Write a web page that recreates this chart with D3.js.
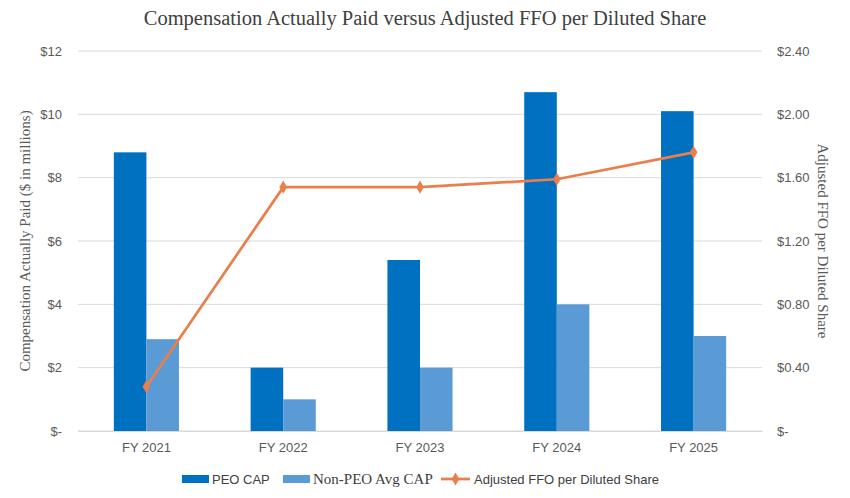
<!DOCTYPE html>
<html>
<head>
<meta charset="utf-8">
<script src="https://cdn.jsdelivr.net/npm/d3@7"></script>
<style>
  body { margin: 0; background: #fff; }
  .tick text { fill: #595959; }
</style>
</head>
<body>
<div id="chart"></div>
<script>
// Data
const years = ["FY 2021", "FY 2022", "FY 2023", "FY 2024", "FY 2025"];
const peoCap = [8.8, 2.0, 5.4, 10.7, 10.1];
const nonPeoCap = [2.9, 1.0, 2.0, 4.0, 3.0];
const ffoPerShare = [0.28, 1.54, 1.54, 1.59, 1.76];
const leftTicks = [0, 2, 4, 6, 8, 10, 12];
const rightTicks = [0, 0.4, 0.8, 1.2, 1.6, 2.0, 2.4];

const W = 850, H = 498;
const margin = {top: 51, right: 88, bottom: 67, left: 78};
const width = W - margin.left - margin.right,
      height = H - margin.top - margin.bottom;

const sans = "'Liberation Sans', Arial, sans-serif";
const serif = "'Liberation Serif', 'Times New Roman', serif";
const colors = {peo: "#0070C0", non: "#5B9BD5", line: "#E97F4C"};

const svg = d3.select("#chart").append("svg")
    .attr("width", W)
    .attr("height", H);

// Title
svg.append("text")
    .attr("x", W / 2)
    .attr("y", 25)
    .attr("text-anchor", "middle")
    .style("font-family", serif)
    .style("font-size", "20.5px")
    .style("fill", "#404040")
    .text("Compensation Actually Paid versus Adjusted FFO per Diluted Share");

const g = svg.append("g")
    .attr("transform", `translate(${margin.left},${margin.top})`);

// Scales
const x0 = d3.scaleBand().domain(years).range([0, width]);
const x1 = d3.scaleBand().domain(["peo", "non"])
    .range([0, x0.bandwidth()])
    .paddingOuter(1.1);
const yL = d3.scaleLinear().domain([0, 12]).range([height, 0]);
const yR = d3.scaleLinear().domain([0, 2.4]).range([height, 0]);

// Gridlines
g.append("g")
    .selectAll("line")
    .data(leftTicks)
    .join("line")
    .attr("x1", 0)
    .attr("x2", width)
    .attr("y1", d => yL(d))
    .attr("y2", d => yL(d))
    .attr("stroke", "#D9D9D9")
    .attr("stroke-width", 1);

// Left axis
const fmtL = d => d === 0 ? "$-" : "$" + d;
g.append("g")
    .call(d3.axisLeft(yL).tickValues(leftTicks).tickFormat(fmtL).tickSize(0).tickPadding(16))
    .call(a => a.select(".domain").remove())
    .selectAll("text")
    .style("font-family", sans)
    .style("font-size", "13px");

// Right axis
const fmtR = d => d === 0 ? "$-" : "$" + d.toFixed(2);
g.append("g")
    .attr("transform", `translate(${width},0)`)
    .call(d3.axisRight(yR).tickValues(rightTicks).tickFormat(fmtR).tickSize(0).tickPadding(15))
    .call(a => a.select(".domain").remove())
    .selectAll("text")
    .style("font-family", sans)
    .style("font-size", "13px");

// Bars
const rows = years.map((y, i) => ({year: y, peo: peoCap[i], non: nonPeoCap[i]}));
const groups = g.append("g").selectAll("g")
    .data(rows)
    .join("g")
    .attr("transform", d => `translate(${x0(d.year)},0)`);

groups.selectAll("rect")
    .data(d => ["peo", "non"].map(k => ({key: k, value: d[k]})))
    .join("rect")
    .attr("x", d => x1(d.key))
    .attr("width", x1.bandwidth())
    .attr("y", d => yL(d.value))
    .attr("height", d => height - yL(d.value))
    .attr("fill", d => colors[d.key]);

// X axis
g.append("g")
    .attr("transform", `translate(0,${height})`)
    .call(d3.axisBottom(x0).tickSize(0).tickPadding(12))
    .call(a => a.select(".domain").attr("stroke", "#D9D9D9"))
    .selectAll("text")
    .style("font-family", sans)
    .style("font-size", "13px");

// FFO line
const lineData = years.map((y, i) => ({year: y, v: ffoPerShare[i]}));
const cx = d => x0(d.year) + x0.bandwidth() / 2;
g.append("path")
    .datum(lineData)
    .attr("fill", "none")
    .attr("stroke", colors.line)
    .attr("stroke-width", 2.75)
    .attr("stroke-linejoin", "round")
    .attr("d", d3.line().x(cx).y(d => yR(d.v)));

const diamond = d3.symbol().type(d3.symbolDiamond).size(50);
g.append("g").selectAll("path")
    .data(lineData)
    .join("path")
    .attr("transform", d => `translate(${cx(d)},${yR(d.v)})`)
    .attr("d", diamond)
    .attr("fill", colors.line);

// Axis titles
svg.append("text")
    .attr("transform", `translate(30,${margin.top + height / 2}) rotate(-90)`)
    .attr("text-anchor", "middle")
    .style("font-family", serif)
    .style("font-size", "15px")
    .style("fill", "#595959")
    .text("Compensation Actually Paid ($ in millions)");

svg.append("text")
    .attr("transform", `translate(818,${margin.top + height / 2}) rotate(90)`)
    .attr("text-anchor", "middle")
    .style("font-family", serif)
    .style("font-size", "15px")
    .style("fill", "#595959")
    .text("Adjusted FFO per Diluted Share");

// Legend
const ly = 479;
const legend = svg.append("g");
const legendItems = [
  {label: "PEO CAP", type: "bar", color: colors.peo, x: 182, font: sans},
  {label: "Non-PEO Avg CAP", type: "bar", color: colors.non, x: 283, font: serif},
  {label: "Adjusted FFO per Diluted Share", type: "line", color: colors.line, x: 441, font: sans}
];
legendItems.forEach(it => {
  if (it.type === "bar") {
    legend.append("rect")
        .attr("x", it.x).attr("y", ly - 4)
        .attr("width", 27).attr("height", 8)
        .attr("fill", it.color);
  } else {
    legend.append("line")
        .attr("x1", it.x).attr("x2", it.x + 29)
        .attr("y1", ly).attr("y2", ly)
        .attr("stroke", it.color).attr("stroke-width", 2.75);
    legend.append("path")
        .attr("transform", `translate(${it.x + 14.5},${ly})`)
        .attr("d", diamond)
        .attr("fill", it.color);
  }
  legend.append("text")
      .attr("x", it.x + (it.type === "bar" ? 30 : 33))
      .attr("y", ly)
      .attr("dy", "0.35em")
      .style("font-family", it.font)
      .style("font-size", it.font === serif ? "15px" : "13px")
      .style("fill", "#404040")
      .text(it.label);
});
</script>
</body>
</html>
